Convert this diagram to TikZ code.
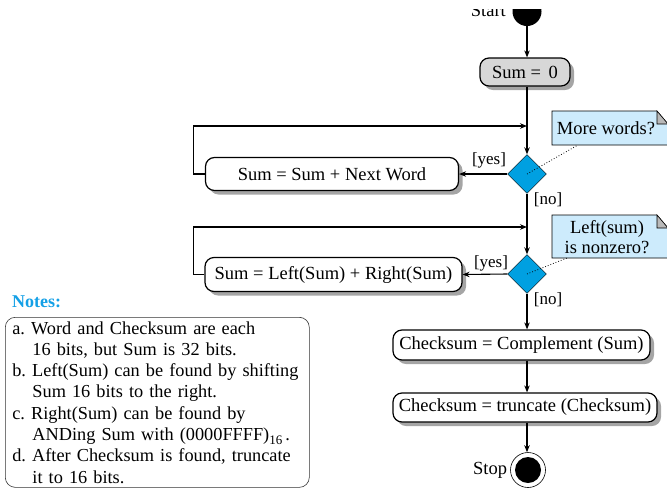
\documentclass[tikz,border=0pt]{standalone}
\usepackage{fontspec}
\setmainfont{Liberation Serif}
\frenchspacing
\hyphenpenalty=10000
\usetikzlibrary{shapes.geometric,arrows.meta,shadows}
\definecolor{diacyan}{RGB}{0,160,225}
\definecolor{memobg}{RGB}{205,235,252}
\definecolor{sumgray}{RGB}{215,215,215}
\definecolor{titleblue}{RGB}{20,160,230}
\begin{document}
\begin{tikzpicture}[x=1pt,y=-1pt,
    every node/.style={font=\fontsize{18.5}{21}\selectfont},
    act/.style={draw,line width=1.2pt,rounded corners=9pt,fill=white,inner sep=0pt,
        drop shadow={shadow xshift=4pt,shadow yshift=-4pt,fill=black!70}},
    dec/.style={diamond,draw,fill=diacyan,inner sep=0pt,minimum size=39pt},
    arr/.style={-{Stealth[length=7pt,width=5.5pt]},line width=1.1pt},
    guard/.style={font=\fontsize{17}{20}\selectfont,inner sep=0pt},
    memo/.style={draw,fill=memobg,semithick}]

    \useasboundingbox (0,0) rectangle (667,491);

    % start, cut by the top edge
    \begin{scope}
        \clip (440,9) rectangle (600,40);
        \node[circle,fill=black,minimum size=29pt,inner sep=0pt] (start) at (527,11.5) {};
        \node[anchor=base east,inner sep=0pt] (starttxt) at (506,16) {Start};
    \end{scope}

    \node[act,fill=sumgray,minimum width=90pt,minimum height=28pt] (sum0) at (525,72) {Sum =\, 0};

    % first decision
    \node[dec] (d1) at (527,174) {};
    \node[act,minimum width=253pt,minimum height=33pt] (add) at (332,174) {Sum = Sum + Next Word};

    % second decision
    \node[dec] (d2) at (527,274) {};
    \node[act,minimum width=257pt,minimum height=34pt] (fold) at (333.5,274.5) {Sum = Left(Sum) + Right(Sum)};

    \node[act,minimum width=257pt,minimum height=30pt] (c1) at (521.5,345) {Checksum = Complement (Sum)};
    \node[act,minimum width=264pt,minimum height=29pt] (c2) at (525,407.5) {Checksum = truncate (Checksum)};

    % stop
    \node[circle,draw,semithick,minimum size=35pt,inner sep=0pt] (stop) at (528,470) {};
    \node[circle,fill=black,minimum size=26pt,inner sep=0pt] (stopdot) at (stop) {};
    \node[anchor=east,inner sep=3pt] (stoptxt) at (stop.west) {Stop};

    % main flow
    \draw[arr] (start.south) -- (start.south |- sum0.north);
    \draw[arr] (sum0.south -| d1) -- (d1.north);
    \draw[arr] (d1.south) -- (d2.north);
    \draw[arr] (d2.south) -- (d2.south |- c1.north);
    \draw[arr] (c1.south -| d2) -- (d2 |- c2.north);
    \draw[arr] (c2.south -| d2) -- (d2 |- stop.north);

    % loops
    \coordinate (join1) at (527,126);
    \coordinate (join2) at (527,227);
    \draw[arr] (d1.west) -- (add.east);
    \draw[arr] (add.west) -- ++(-11,0) |- (join1);
    \draw[arr] (d2.west) -- (fold.east);
    \draw[arr] (fold.west) -- ++(-11,0) |- (join2);

    \node[guard] (yes1) at (489,160) {[yes]};
    \node[guard] (no1) at (548,200) {[no]};
    \node[guard] (yes2) at (491,263) {[yes]};
    \node[guard] (no2) at (548,300) {[no]};

    % memos
    \filldraw[memo] (552,111) -- (657,111) -- (668,124) -- (668,145) -- (552,145) -- cycle;
    \filldraw[semithick,fill=gray!55] (657,111) -- (657,124) -- (668,124) -- cycle;
    \node[inner sep=0pt] (q1) at (606,128) {More words?};
    \coordinate (q1end) at (578,145);
    \draw[dotted,thick] (d1.center) -- (q1end);

    \filldraw[memo] (552,215) -- (657,215) -- (668,228) -- (668,258) -- (552,258) -- cycle;
    \filldraw[semithick,fill=gray!55] (657,215) -- (657,228) -- (668,228) -- cycle;
    \node[align=center,inner sep=0pt,font=\fontsize{18.5}{20}\selectfont] (q2) at (607,237) {Left(sum)\\is nonzero?};
    \coordinate (q2end) at (567,258);
    \draw[dotted,thick] (d2.center) -- (q2end);

    % notes
    \node[anchor=west,inner sep=0pt,text=titleblue,font=\bfseries\fontsize{18}{21}\selectfont] (notestitle) at (12,302) {Notes:};
    \node[draw=black!80,semithick,rounded corners=10pt,anchor=north west,text width=290pt,
        inner xsep=7pt,inner ysep=4pt,align=left,
        font=\fontsize{18.3}{21.3}\selectfont] (notes) at (5,317)
        {a. Word and Checksum are each\\
         \hspace*{1.1em}16 bits, but Sum is 32 bits.\\
         b. Left(Sum) can be found by shifting\\
         \hspace*{1.1em}Sum 16 bits to the right.\\
         c. Right(Sum) can be found by\\
         \hspace*{1.1em}ANDing Sum with (0000FFFF)\raisebox{-4pt}{\fontsize{13}{13}\selectfont 16}\,.\\
         d. After Checksum is found, truncate\\
         \hspace*{1.1em}it to 16 bits.};
\end{tikzpicture}
\end{document}
